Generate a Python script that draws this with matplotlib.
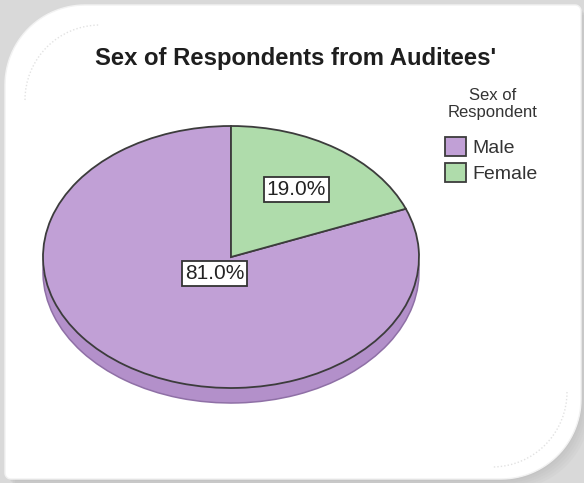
import numpy as np
import matplotlib
matplotlib.use("Agg")
import matplotlib.pyplot as plt
from matplotlib.patches import Polygon, Arc, Rectangle

plt.rcParams['font.family'] = ['Liberation Sans', 'DejaVu Sans']

# data
categories = ['Male', 'Female']
percent = [81.0, 19.0]
title = "Sex of Respondents from Auditees'"
legend_title = "Sex of\nRespondent"

top_colors = ['#c1a0d6', '#afdcab']
side_color = '#b390ca'
edge = '#3c3c3c'

W, H = 584, 483
fig = plt.figure(figsize=(W / 100, H / 100), dpi=100)
fig.patch.set_facecolor('#d9d9d9')

# background panel in pixel coordinates
bg = fig.add_axes([0, 0, 1, 1])
bg.set_xlim(0, W)
bg.set_ylim(H, 0)
bg.axis('off')


def rounded_panel(x0, y0, x1, y1, r_tl, r_tr, r_br, r_bl):
    pts = []
    def corner(cx, cy, r, a0, a1):
        t = np.linspace(np.radians(a0), np.radians(a1), 30)
        return np.column_stack([cx + r * np.cos(t), cy + r * np.sin(t)])
    pts.append(corner(x0 + r_tl, y0 + r_tl, r_tl, 180, 270))
    pts.append(corner(x1 - r_tr, y0 + r_tr, r_tr, 270, 360))
    pts.append(corner(x1 - r_br, y1 - r_br, r_br, 0, 90))
    pts.append(corner(x0 + r_bl, y1 - r_bl, r_bl, 90, 180))
    return np.vstack(pts)

# soft shadow
for i in range(5):
    off = 2 + 2 * i
    bg.add_patch(Polygon(rounded_panel(5 + off, 5 + off, 580 + off, 479 + off, 80, 6, 80, 6),
                         closed=True, facecolor='#888888', edgecolor='none', alpha=0.05))
bg.add_patch(Polygon(rounded_panel(5, 5, 581, 479, 80, 6, 80, 6), closed=True,
                     facecolor='white', edgecolor='#f2f2f2', lw=1))
bg.add_patch(Arc((100, 100), 150, 150, theta1=180, theta2=270, color='#e2e2e2',
                 lw=1, ls=(0, (1, 1.5))))
bg.add_patch(Arc((492, 392), 150, 150, theta1=0, theta2=90, color='#e2e2e2',
                 lw=1, ls=(0, (1, 1.5))))

# pie geometry (pixels)
cx, cy, rx, ry, depth = 231, 257, 188, 131, 15
xl = (-1.02, 1.02)
yl = (-1.0 - depth / ry - 0.03, 1.02)
ax_w = (xl[1] - xl[0]) * rx
ax_h = (yl[1] - yl[0]) * ry
left = cx + xl[0] * rx
top = cy - yl[1] * ry
ax = fig.add_axes([left / W, 1 - (top + ax_h) / H, ax_w / W, ax_h / H])
ax.set_facecolor('none')

d = depth / ry
# side of the 3D pie
ax.pie(percent, startangle=90, center=(0, -d), colors=[side_color] * 2,
       wedgeprops=dict(edgecolor='#8f70a6', linewidth=1.1))
ax.add_patch(Rectangle((-1, -d), 2, d, facecolor=side_color, edgecolor='none'))
# top face
wedges, texts, autotexts = ax.pie(
    percent, startangle=90, colors=top_colors, autopct='%1.1f%%', pctdistance=0.62,
    wedgeprops=dict(edgecolor=edge, linewidth=1.3),
    textprops=dict(fontsize=15, color='#222222'))
ax.set_aspect('auto')
ax.set_xlim(*xl)
ax.set_ylim(*yl)

# male label sits close to the centre
w = wedges[0]
mid = np.radians((w.theta1 + w.theta2) / 2)
autotexts[0].set_position((0.155 * np.cos(mid), 0.155 * np.sin(mid)))
for t in autotexts:
    t.set_bbox(dict(boxstyle='square,pad=0.15', facecolor='white', edgecolor='#333333', lw=1.3))

fig.text(296 / W, 1 - 58 / H, title, ha='center', va='center', fontsize=17.2,
         fontweight='bold', color='#1e1e1e')

fig.text(493 / W, 1 - 104 / H, legend_title, ha='center', va='center', fontsize=12,
         color='#333333', linespacing=1.1)
leg = fig.legend(wedges, categories, loc='upper left',
                 bbox_to_anchor=(445 / W, 1 - 137 / H), frameon=False, fontsize=14,
                 handlelength=1.1, handleheight=1.15, handletextpad=0.3,
                 labelspacing=0.3, borderpad=0, borderaxespad=0)
for t in leg.get_texts():
    t.set_color('#333333')

fig.savefig('out.png', dpi=100, facecolor=fig.get_facecolor())
